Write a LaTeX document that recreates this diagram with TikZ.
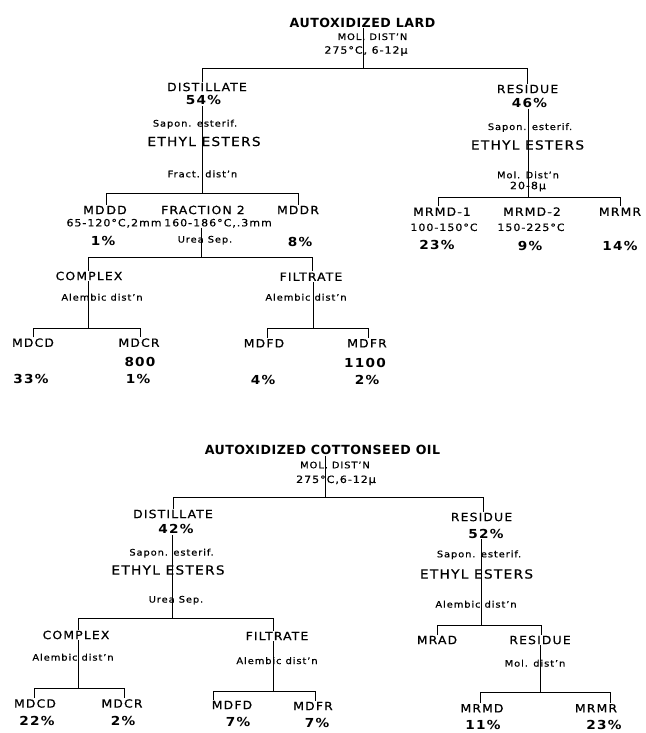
\documentclass[tikz,border=0pt]{standalone}
\usepackage{fontspec}
\setmainfont{DejaVu Sans}[FakeStretch=1.1,LetterSpace=10,UprightFeatures={FakeBold=0.6}]
\newfontfamily\titlefont{DejaVu Sans}[LetterSpace=4]
\usetikzlibrary{backgrounds,calc}

\tikzset{
  ttl/.style={font=\titlefont\bfseries\fontsize{12.6}{13}\selectfont,inner sep=1pt,text height=9.2pt,text depth=0pt},
  lbl/.style={font=\fontsize{11.3}{12}\selectfont,inner sep=1pt,text height=8.2pt,text depth=0pt},
  big/.style={font=\fontsize{12.5}{13}\selectfont,inner sep=1pt,text height=9.1pt,text depth=0pt},
  note/.style={font=\fontsize{9}{10}\selectfont,inner sep=1pt,text height=6.6pt,text depth=0pt},
  tmp/.style={font=\fontsize{10}{11}\selectfont,inner sep=1pt,text height=7.3pt,text depth=0pt},
  pct/.style={font=\bfseries\fontsize{12.4}{13}\selectfont,inner sep=1pt,text height=9pt,text depth=0pt},
  link/.style={line width=1.8pt,line join=miter},
}

\begin{document}
\begin{tikzpicture}[x=1pt,y=-1pt]
\useasboundingbox (0,0) rectangle (645,733);
%% autoxidized lard
\node (lard) at (362.5,22.7) [ttl] {AUTOXIDIZED LARD};
  \node (lmol) at (372.5,36.7) [note] {MOL. DIST'N};
  \node (ltemp) at (366,50) [tmp] {275°C, 6-12μ};
  \node (ldist) at (207,87) [lbl] {DISTILLATE};
  \node (ldpct) at (203.5,100.5) [pct] {54\%};
  \node (ldsap) at (195,123.3) [note] {Sapon. esterif.};
  \node (ldeth) at (204,141.5) [big] {ETHYL ESTERS};
  \node (ldfract) at (202.5,174) [note] {Fract. dist'n};
  \node (mddd) at (105,210) [lbl] {MD\,DD};
  \node (mdddt) at (114,222.7) [tmp] {65-120°C,2mm};
  \node (mdddp) at (103,240.7) [pct] {1\%};
  \node (frac2) at (203,210) [lbl] {FRACTION 2};
  \node (frac2t) at (218,222.7) [tmp] {160-186°C,.3mm};
  \node (lurea) at (205,239.3) [note] {Urea Sep.};
  \node (mddr) at (298,210) [lbl] {MDDR};
  \node (mddrp) at (300,241.7) [pct] {8\%};
  \node (lcplx) at (89,276) [lbl] {COMPLEX};
  \node (lcalem) at (102,297.3) [note] {Alembic dist'n};
  \node (mdcd) at (33,342.7) [lbl] {MDCD};
  \node (mdcr) at (139,342.7) [lbl] {MDCR};
  \node (mdcrm) at (140,361.7) [pct] {800};
  \node (mdcdp) at (31,379.3) [pct] {33\%};
  \node (mdcrp) at (138,379.3) [pct] {1\%};
  \node (lfilt) at (311,276.7) [lbl] {FILTRATE};
  \node (lfalem) at (306,297.3) [note] {Alembic dist'n};
  \node (mdfd) at (264,343.3) [lbl] {MDFD};
  \node (mdfr) at (367,343.3) [lbl] {MDFR};
  \node (mdfrm) at (365,362.7) [pct] {1100};
  \node (mdfdp) at (263,380) [pct] {4\%};
  \node (mdfrp) at (367,380) [pct] {2\%};
  \node (lres) at (527.5,89) [lbl] {RESIDUE};
  \node (lrpct) at (529.5,103) [pct] {46\%};
  \node (lrsap) at (530,126.7) [note] {Sapon. esterif.};
  \node (lreth) at (527.5,145) [big] {ETHYL ESTERS};
  \node (lrmol) at (528,175) [note] {Mol. Dist'n};
  \node (lrmolt) at (528,185.5) [tmp] {20-8μ};
  \node (mrmda) at (442,211.7) [lbl] {MRMD-1};
  \node (mrmdat) at (444,227.3) [tmp] {100-150°C};
  \node (mrmdap) at (437,245) [pct] {23\%};
  \node (mrmdb) at (532,211.7) [lbl] {MRMD-2};
  \node (mrmdbt) at (531,227.3) [tmp] {150-225°C};
  \node (mrmdbp) at (530,246) [pct] {9\%};
  \node (mrmr) at (620,211.7) [lbl] {MRMR};
  \node (mrmrp) at (620,246) [pct] {14\%};
%% autoxidized cottonseed oil
\node (cso) at (322.5,450) [ttl] {AUTOXIDIZED COTTONSEED OIL};
  \node (cmol) at (335,465) [note] {MOL. DIST'N};
  \node (ctemp) at (336,479.3) [tmp] {275°C,6-12μ};
  \node (cdist) at (173,514) [lbl] {DISTILLATE};
  \node (cdpct) at (176,529.3) [pct] {42\%};
  \node (cdsap) at (171.5,552.3) [note] {Sapon. esterif.};
  \node (cdeth) at (168,570) [big] {ETHYL ESTERS};
  \node (curea) at (176,599.3) [note] {Urea Sep.};
  \node (ccplx) at (76,635) [lbl] {COMPLEX};
  \node (ccalem) at (73,657.3) [note] {Alembic dist'n};
  \node (cmdcd) at (35,703.5) [lbl] {MDCD};
  \node (cmdcr) at (122,703.5) [lbl] {MDCR};
  \node (cmdcdp) at (37,721) [pct] {22\%};
  \node (cmdcrp) at (123,721) [pct] {2\%};
  \node (cfilt) at (277,636) [lbl] {FILTRATE};
  \node (cfalem) at (277,660.7) [note] {Alembic dist'n};
  \node (cmdfd) at (232,705) [lbl] {MDFD};
  \node (cmdfr) at (313,706) [lbl] {MDFR};
  \node (cmdfdp) at (238,721.7) [pct] {7\%};
  \node (cmdfrp) at (317,723) [pct] {7\%};
  \node (cres) at (481.5,517) [lbl] {RESIDUE};
  \node (crpct) at (486,533.5) [pct] {52\%};
  \node (crsap) at (479,554) [note] {Sapon. esterif.};
  \node (creth) at (476.5,574) [big] {ETHYL ESTERS};
  \node (cralem) at (476,604.3) [note] {Alembic dist'n};
  \node (mrad) at (437,640) [lbl] {MRAD};
  \node (cresb) at (540,640) [lbl] {RESIDUE};
  \node (cresbmol) at (535,663.3) [note] {Mol. dist'n};
  \node (cmrmd) at (482,708.3) [lbl] {MRMD};
  \node (cmrmr) at (596,708.3) [lbl] {MRMR};
  \node (cmrmdp) at (483,725) [pct] {11\%};
  \node (cmrmrp) at (604,725) [pct] {23\%};
%% junctions and bar ends
\coordinate (j1) at (363,68.3);   \coordinate (b1l) at (201.7,68.3);  \coordinate (b1r) at (527.3,68.3);
\coordinate (j2) at (202,192.7);  \coordinate (b2l) at (106,192.7);   \coordinate (b2r) at (297.7,192.7);
\coordinate (j3) at (201,257.3);  \coordinate (b3l) at (88.3,257.3);  \coordinate (b3r) at (311.7,257.3);
\coordinate (j4) at (88.3,327.7); \coordinate (b4l) at (33.3,327.7);  \coordinate (b4r) at (140,327.7);
\coordinate (j5) at (312.7,327.7);\coordinate (b5l) at (266.7,327.7); \coordinate (b5r) at (368.3,327.7);
\coordinate (j6) at (527.7,196.7);\coordinate (b6l) at (438.3,196.7); \coordinate (b6r) at (620,196.7);
\coordinate (j7) at (325,496.7);  \coordinate (b7l) at (173.3,496.7); \coordinate (b7r) at (482.7,496.7);
\coordinate (j8) at (171.7,618.3);\coordinate (b8l) at (78.3,618.3);  \coordinate (b8r) at (273.3,618.3);
\coordinate (j9) at (78.3,688.3); \coordinate (b9l) at (34.3,688.3);  \coordinate (b9r) at (124,688.3);
\coordinate (j10) at (273.3,690.7);\coordinate (b10l) at (213.3,690.7);\coordinate (b10r) at (315,690.7);
\coordinate (j11) at (480.7,625); \coordinate (b11l) at (436.7,625);  \coordinate (b11r) at (541,625);
\coordinate (j12) at (540,691.7); \coordinate (b12l) at (480,691.7);  \coordinate (b12r) at (610,691.7);
%
\begin{scope}[on background layer,link]
  % stems
  \draw (lard.south -| j1) -- (j1);
  \draw (ldpct.south -| j2) -- (j2);
  \draw (frac2t.south -| j3) -- (j3);
  \draw (lcplx.south -| j4) -- (j4);
  \draw (lfilt.south -| j5) -- (j5);
  \draw (lrpct.south -| j6) -- (j6);
  \draw (cso.south -| j7) -- (j7);
  \draw (cdpct.south -| j8) -- (j8);
  \draw (ccplx.south -| j9) -- (j9);
  \draw (cfilt.south -| j10) -- (j10);
  \draw (crpct.south -| j11) -- (j11);
  \draw (cresb.south -| j12) -- (j12);
  % bars
  \draw (ldist.north -| b1l) -- (b1l) -- (b1r) -- (lres.north -| b1r);
  \draw (mddd.north -| b2l) -- (b2l) -- (b2r) -- (mddr.north -| b2r);
  \draw (lcplx.north -| b3l) -- (b3l) -- (b3r) -- (lfilt.north -| b3r);
  \draw (mdcd.north -| b4l) -- (b4l) -- (b4r) -- (mdcr.north -| b4r);
  \draw (mdfd.north -| b5l) -- (b5l) -- (b5r) -- (mdfr.north -| b5r);
  \draw (mrmda.north -| b6l) -- (b6l) -- (b6r) -- (mrmr.north -| b6r);
  \draw (cdist.north -| b7l) -- (b7l) -- (b7r) -- (cres.north -| b7r);
  \draw (ccplx.north -| b8l) -- (b8l) -- (b8r) -- (cfilt.north -| b8r);
  \draw (cmdcd.north -| b9l) -- (b9l) -- (b9r) -- (cmdcr.north -| b9r);
  \draw (cmdfd.north -| b10l) -- (b10l) -- (b10r) -- (cmdfr.north -| b10r);
  \draw (mrad.north -| b11l) -- (b11l) -- (b11r) -- (cresb.north -| b11r);
  \draw (cmrmd.north -| b12l) -- (b12l) -- (b12r) -- (cmrmr.north -| b12r);
\end{scope}
%
\end{tikzpicture}
\end{document}
